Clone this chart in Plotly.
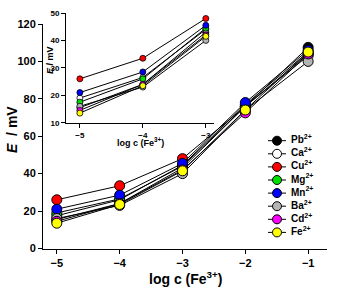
import plotly.graph_objects as go

x_main = [-5, -4, -3, -2, -1]
x_inset = [-5, -4, -3]

ions = ["Pb", "Ca", "Cu", "Mg", "Mn", "Ba", "Cd", "Fe"]
colors = ["#000000", "#ffffff", "#ff0000", "#00e000", "#0000ff", "#b4b4b4", "#ff00ff", "#ffff00"]

E_Pb = [15.5, 24.0, 43.0, 76.0, 107.5]
E_Ca = [19.0, 26.5, 44.0, 76.0, 103.0]
E_Cu = [26.0, 33.5, 48.0, 76.0, 104.0]
E_Mg = [17.5, 26.0, 44.5, 77.0, 105.0]
E_Mn = [21.0, 28.5, 45.5, 78.0, 106.0]
E_Ba = [16.0, 23.0, 40.0, 74.0, 100.0]
E_Cd = [14.5, 24.0, 42.0, 72.5, 104.0]
E_Fe = [13.5, 23.5, 41.5, 74.0, 105.0]
series = [E_Pb, E_Ca, E_Cu, E_Mg, E_Mn, E_Ba, E_Cd, E_Fe]

FONT = "Liberation Sans, Arial, sans-serif"

fig = go.Figure()
for ion, col, ys in zip(ions, colors, series):
    fig.add_trace(go.Scatter(
        x=x_main, y=ys, mode="lines+markers", name=f"{ion}<sup>2+</sup>",
        line=dict(color="black", width=1),
        marker=dict(size=10, color=col, line=dict(color="black", width=1)),
        xaxis="x", yaxis="y", showlegend=False))
for ion, col, ys in zip(ions, colors, series):
    fig.add_trace(go.Scatter(
        x=x_inset, y=ys[:3], mode="lines+markers", showlegend=False,
        line=dict(color="black", width=1),
        marker=dict(size=6, color=col, line=dict(color="black", width=0.8)),
        xaxis="x2", yaxis="y2"))

# Legend (drawn as key on its own hidden axes)
rows = list(range(len(ions)))
lx, ly = [], []
for r in rows:
    lx += [6, 24, None]
    ly += [r, r, None]
fig.add_trace(go.Scatter(x=lx, y=ly, mode="lines", line=dict(color="black", width=1),
                         showlegend=False, hoverinfo="skip", xaxis="x3", yaxis="y3"))
fig.add_trace(go.Scatter(x=[15] * len(rows), y=rows, mode="markers",
                         marker=dict(size=9, color=colors, line=dict(color="black", width=1)),
                         showlegend=False, hoverinfo="skip", xaxis="x3", yaxis="y3"))
fig.add_trace(go.Scatter(x=[29] * len(rows), y=rows, mode="text",
                         text=[f"<b>{ion}<sup>2+</sup></b>" for ion in ions],
                         textposition="middle right",
                         textfont=dict(size=10, family=FONT, color="black"),
                         showlegend=False, hoverinfo="skip", xaxis="x3", yaxis="y3"))

axcommon = dict(showgrid=False, zeroline=False, showline=True, linecolor="black",
                linewidth=1, ticks="outside", ticklen=4, tickcolor="black")

W_PLOT = 302.0
H_PLOT = 236.0

fig.update_layout(
    width=348, height=289,
    margin=dict(l=43, r=3, t=13, b=40, autoexpand=False),
    paper_bgcolor="white", plot_bgcolor="rgba(0,0,0,0)",
    font=dict(family=FONT, color="black"),
    showlegend=False,
    xaxis=dict(domain=[0, 284 / W_PLOT], range=[-5.22, -0.70], tickvals=x_main,
               tickfont=dict(size=11, weight="bold"), anchor="y", **axcommon),
    yaxis=dict(domain=[0, 225 / H_PLOT], range=[-0.3, 120], tickvals=[0, 20, 40, 60, 80, 100, 120],
               tickfont=dict(size=11, weight="bold"), anchor="x", **axcommon),
    xaxis2=dict(domain=[23 / W_PLOT, 171 / W_PLOT], range=[-5.22, -2.87], tickvals=x_inset,
                tickfont=dict(size=8, weight="bold"), anchor="y2", **axcommon),
    yaxis2=dict(domain=[126 / H_PLOT, 1.0], range=[9.9, 50], tickvals=[10, 20, 30, 40, 50],
                tickfont=dict(size=8, weight="bold"), anchor="x2", **axcommon),
    xaxis3=dict(domain=[219 / W_PLOT, 1.0], range=[0, 83], visible=False, anchor="y3"),
    yaxis3=dict(domain=[10 / H_PLOT, 115 / H_PLOT], range=[(239 - 140.7) / 13.1, (134 - 140.7) / 13.1],
                visible=False, anchor="x3"),
    annotations=[
        dict(text="log c (Fe<sup>3+</sup>)", xref="paper", yref="paper", x=142 / W_PLOT, y=-29 / H_PLOT,
             showarrow=False, font=dict(size=14, weight="bold"), xanchor="center", yanchor="middle"),
        dict(text="<i>E</i>  / mV", xref="paper", yref="paper", x=-31 / W_PLOT, y=119 / H_PLOT,
             showarrow=False, textangle=-90, font=dict(size=14, weight="bold"),
             xanchor="center", yanchor="middle"),
        dict(text="log c (Fe<sup>3+</sup>)", xref="paper", yref="paper", x=97 / W_PLOT, y=107 / H_PLOT,
             showarrow=False, font=dict(size=9, weight="bold"), xanchor="center", yanchor="middle"),
        dict(text="<i>E</i> / mV", xref="paper", yref="paper", x=7 / W_PLOT, y=189 / H_PLOT,
             showarrow=False, textangle=-90, font=dict(size=9, weight="bold"),
             xanchor="center", yanchor="middle"),
    ],
)

fig.write_html("out.html")
